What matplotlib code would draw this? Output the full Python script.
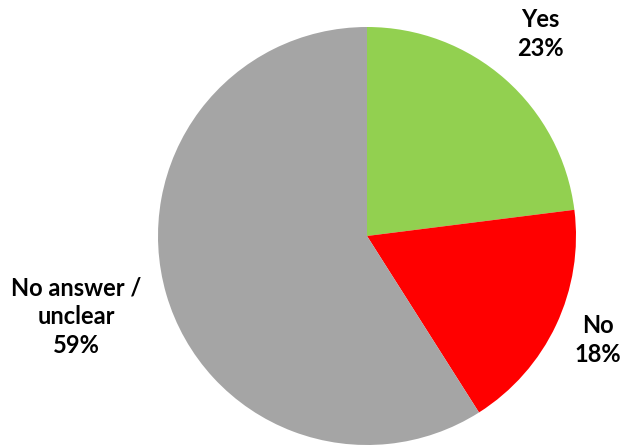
import matplotlib.pyplot as plt

labels = ["Yes", "No", "No answer /\nunclear"]
shares = [23, 18, 59]
colors = ["#92D050", "#FF0000", "#A5A5A5"]

fig = plt.figure(figsize=(6.28, 4.48), dpi=100)
ax = fig.add_axes([0, 0, 1, 1])

ax.pie(shares, colors=colors, startangle=90, counterclock=False,
       center=(367, 212), radius=209, frame=True,
       wedgeprops=dict(linewidth=0))
ax.set_xlim(0, 628)
ax.set_ylim(0, 448)
ax.set_aspect("equal")
ax.axis("off")

label_pos = [(540, 414), (598, 108), (76, 131)]
for name, val, (x, y) in zip(labels, shares, label_pos):
    ax.text(x, y, f"{name}\n{val}%", ha="center", va="center",
            fontsize=17, fontweight="bold", family="Lato",
            linespacing=1.3, color="black")

fig.savefig("out.png", dpi=100)
